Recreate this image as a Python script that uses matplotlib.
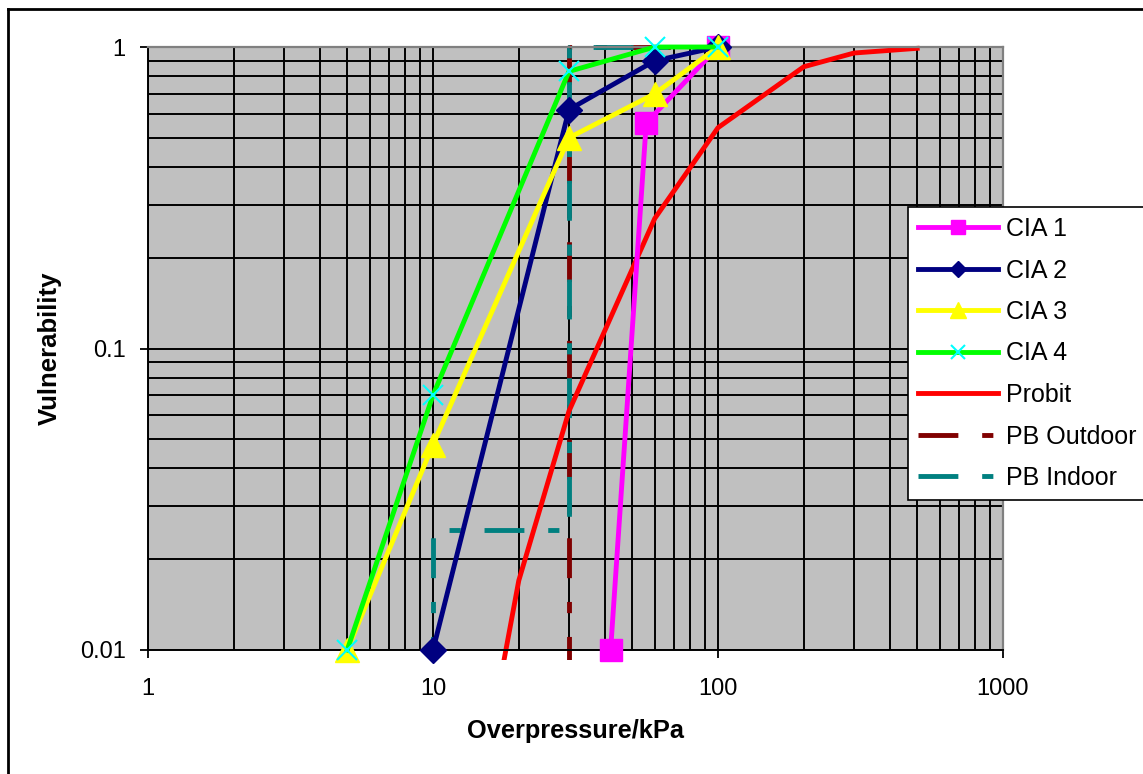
import numpy as np
import matplotlib
matplotlib.use('Agg')
import matplotlib.pyplot as plt
from matplotlib.ticker import LogLocator, FuncFormatter, NullFormatter
from matplotlib.transforms import Bbox, TransformedBbox
from matplotlib.lines import Line2D

plt.rcParams['font.family'] = ['Liberation Sans', 'DejaVu Sans']

# Curvas de vulnerabilidade
cia1_x = [42, 56, 100]
cia1_y = [0.01, 0.56, 1.0]
cia2_x = [10, 30, 60, 100]
cia2_y = [0.01, 0.62, 0.9, 1.0]
cia3_x = [5, 10, 30, 60, 100]
cia3_y = [0.01, 0.048, 0.5, 0.7, 1.0]
cia4_x = [5, 10, 30, 60, 100]
cia4_y = [0.01, 0.07, 0.83, 1.0, 1.0]
probit_x = [10, 20, 30, 60, 100, 200, 300, 500]
probit_y = [0.0005, 0.017, 0.062, 0.27, 0.54, 0.86, 0.955, 0.99]
pb_out_x = [30, 30, 100]
pb_out_y = [0.001, 1.0, 1.0]
pb_in_x = [10, 10, 30, 30, 100]
pb_in_y = [0.001, 0.025, 0.025, 1.0, 1.0]

W, H = 1143, 774
fig = plt.figure(figsize=(W / 100, H / 100), dpi=100)
ax = fig.add_axes([148 / W, 1 - 650 / H, (1003 - 148) / W, (650 - 47) / H])
ax.set_facecolor('#C0C0C0')

lw = 3.5
dash = (0, (8.2, 4.9, 2.3, 4.9))

# linhas de fundo (tracejadas e probit) com recorte um pouco maior que a area
l_out, = ax.plot(pb_out_x, pb_out_y, color='#800000', lw=lw, ls=dash, zorder=2, label='PB Outdoor')
l_in, = ax.plot(pb_in_x, pb_in_y, color='#008080', lw=lw, ls=dash, zorder=2.1, label='PB Indoor')
l_pr, = ax.plot(probit_x, probit_y, color='red', lw=lw, zorder=2.2, label='Probit')
clip = TransformedBbox(Bbox([[0, -10 / 603], [1, 1 + 4 / 603]]), ax.transAxes)
for ln in (l_out, l_in, l_pr):
    ln.set_clip_path(None)
    ln.set_clip_box(clip)

l1, = ax.plot(cia1_x, cia1_y, color='#FF00FF', lw=lw, marker='s', ms=15.5, mew=1,
              zorder=3, clip_on=False, label='CIA 1')
l2, = ax.plot(cia2_x, cia2_y, color='#000080', lw=lw, marker='D', ms=13, mew=1,
              zorder=3.1, clip_on=False, label='CIA 2')
l3, = ax.plot(cia3_x, cia3_y, color='#FFFF00', lw=lw, marker='^', ms=17, mew=1,
              zorder=3.2, clip_on=False, label='CIA 3')
l4, = ax.plot(cia4_x, cia4_y, color='#00FF00', lw=lw, marker='x', ms=14.5, mew=1.5,
              mec='#00FFFF', zorder=3.3, clip_on=False, label='CIA 4')

ax.set_xscale('log')
ax.set_yscale('log')
ax.set_xlim(1, 1000)
ax.set_ylim(0.01, 1)

for axis in (ax.xaxis, ax.yaxis):
    axis.set_major_locator(LogLocator(base=10))
    axis.set_minor_locator(LogLocator(base=10, subs=range(2, 10)))
    axis.set_major_formatter(FuncFormatter(lambda v, p: '%g' % v))
    axis.set_minor_formatter(NullFormatter())

ax.grid(True, which='both', color='black', lw=1.4, zorder=1)
ax.set_axisbelow(True)
ax.tick_params(which='major', direction='out', length=6, width=1.3, labelsize=17)
ax.tick_params(which='minor', length=0)
ax.tick_params(axis='x', pad=14)
ax.tick_params(axis='y', pad=10)

for s in ('left', 'bottom'):
    ax.spines[s].set_color('black')
    ax.spines[s].set_linewidth(1.4)
for s in ('top', 'right'):
    ax.spines[s].set_color('#808080')
    ax.spines[s].set_linewidth(1.6)

ax.set_xlabel('Overpressure/kPa', fontsize=18.3, fontweight='bold', va='center')
ax.xaxis.set_label_coords(0.5, (650 - 731) / 603)
ax.set_ylabel('Vulnerability', fontsize=18.5, fontweight='bold', va='center')
ax.yaxis.set_label_coords((50 - 148) / 855, 0.5)

leg = ax.legend(handles=[l1, l2, l3, l4, l_pr, l_out, l_in],
                loc='upper left', bbox_to_anchor=(908 / W, 1 - 207 / H),
                bbox_transform=fig.transFigure, borderaxespad=0,
                fontsize=18, fancybox=False, framealpha=1, edgecolor='black',
                markerscale=0.65, handlelength=3.2, handletextpad=0.3,
                labelspacing=0.7, borderpad=0.4)
leg.get_frame().set_linewidth(1.2)
leg.set_zorder(10)

# moldura externa do grafico
fig.add_artist(Line2D([8 / W, 8 / W], [0, 1 - 9 / H], color='black', lw=2))
fig.add_artist(Line2D([8 / W, 1], [1 - 9 / H, 1 - 9 / H], color='black', lw=2))

fig.savefig('out.png', dpi=100)
